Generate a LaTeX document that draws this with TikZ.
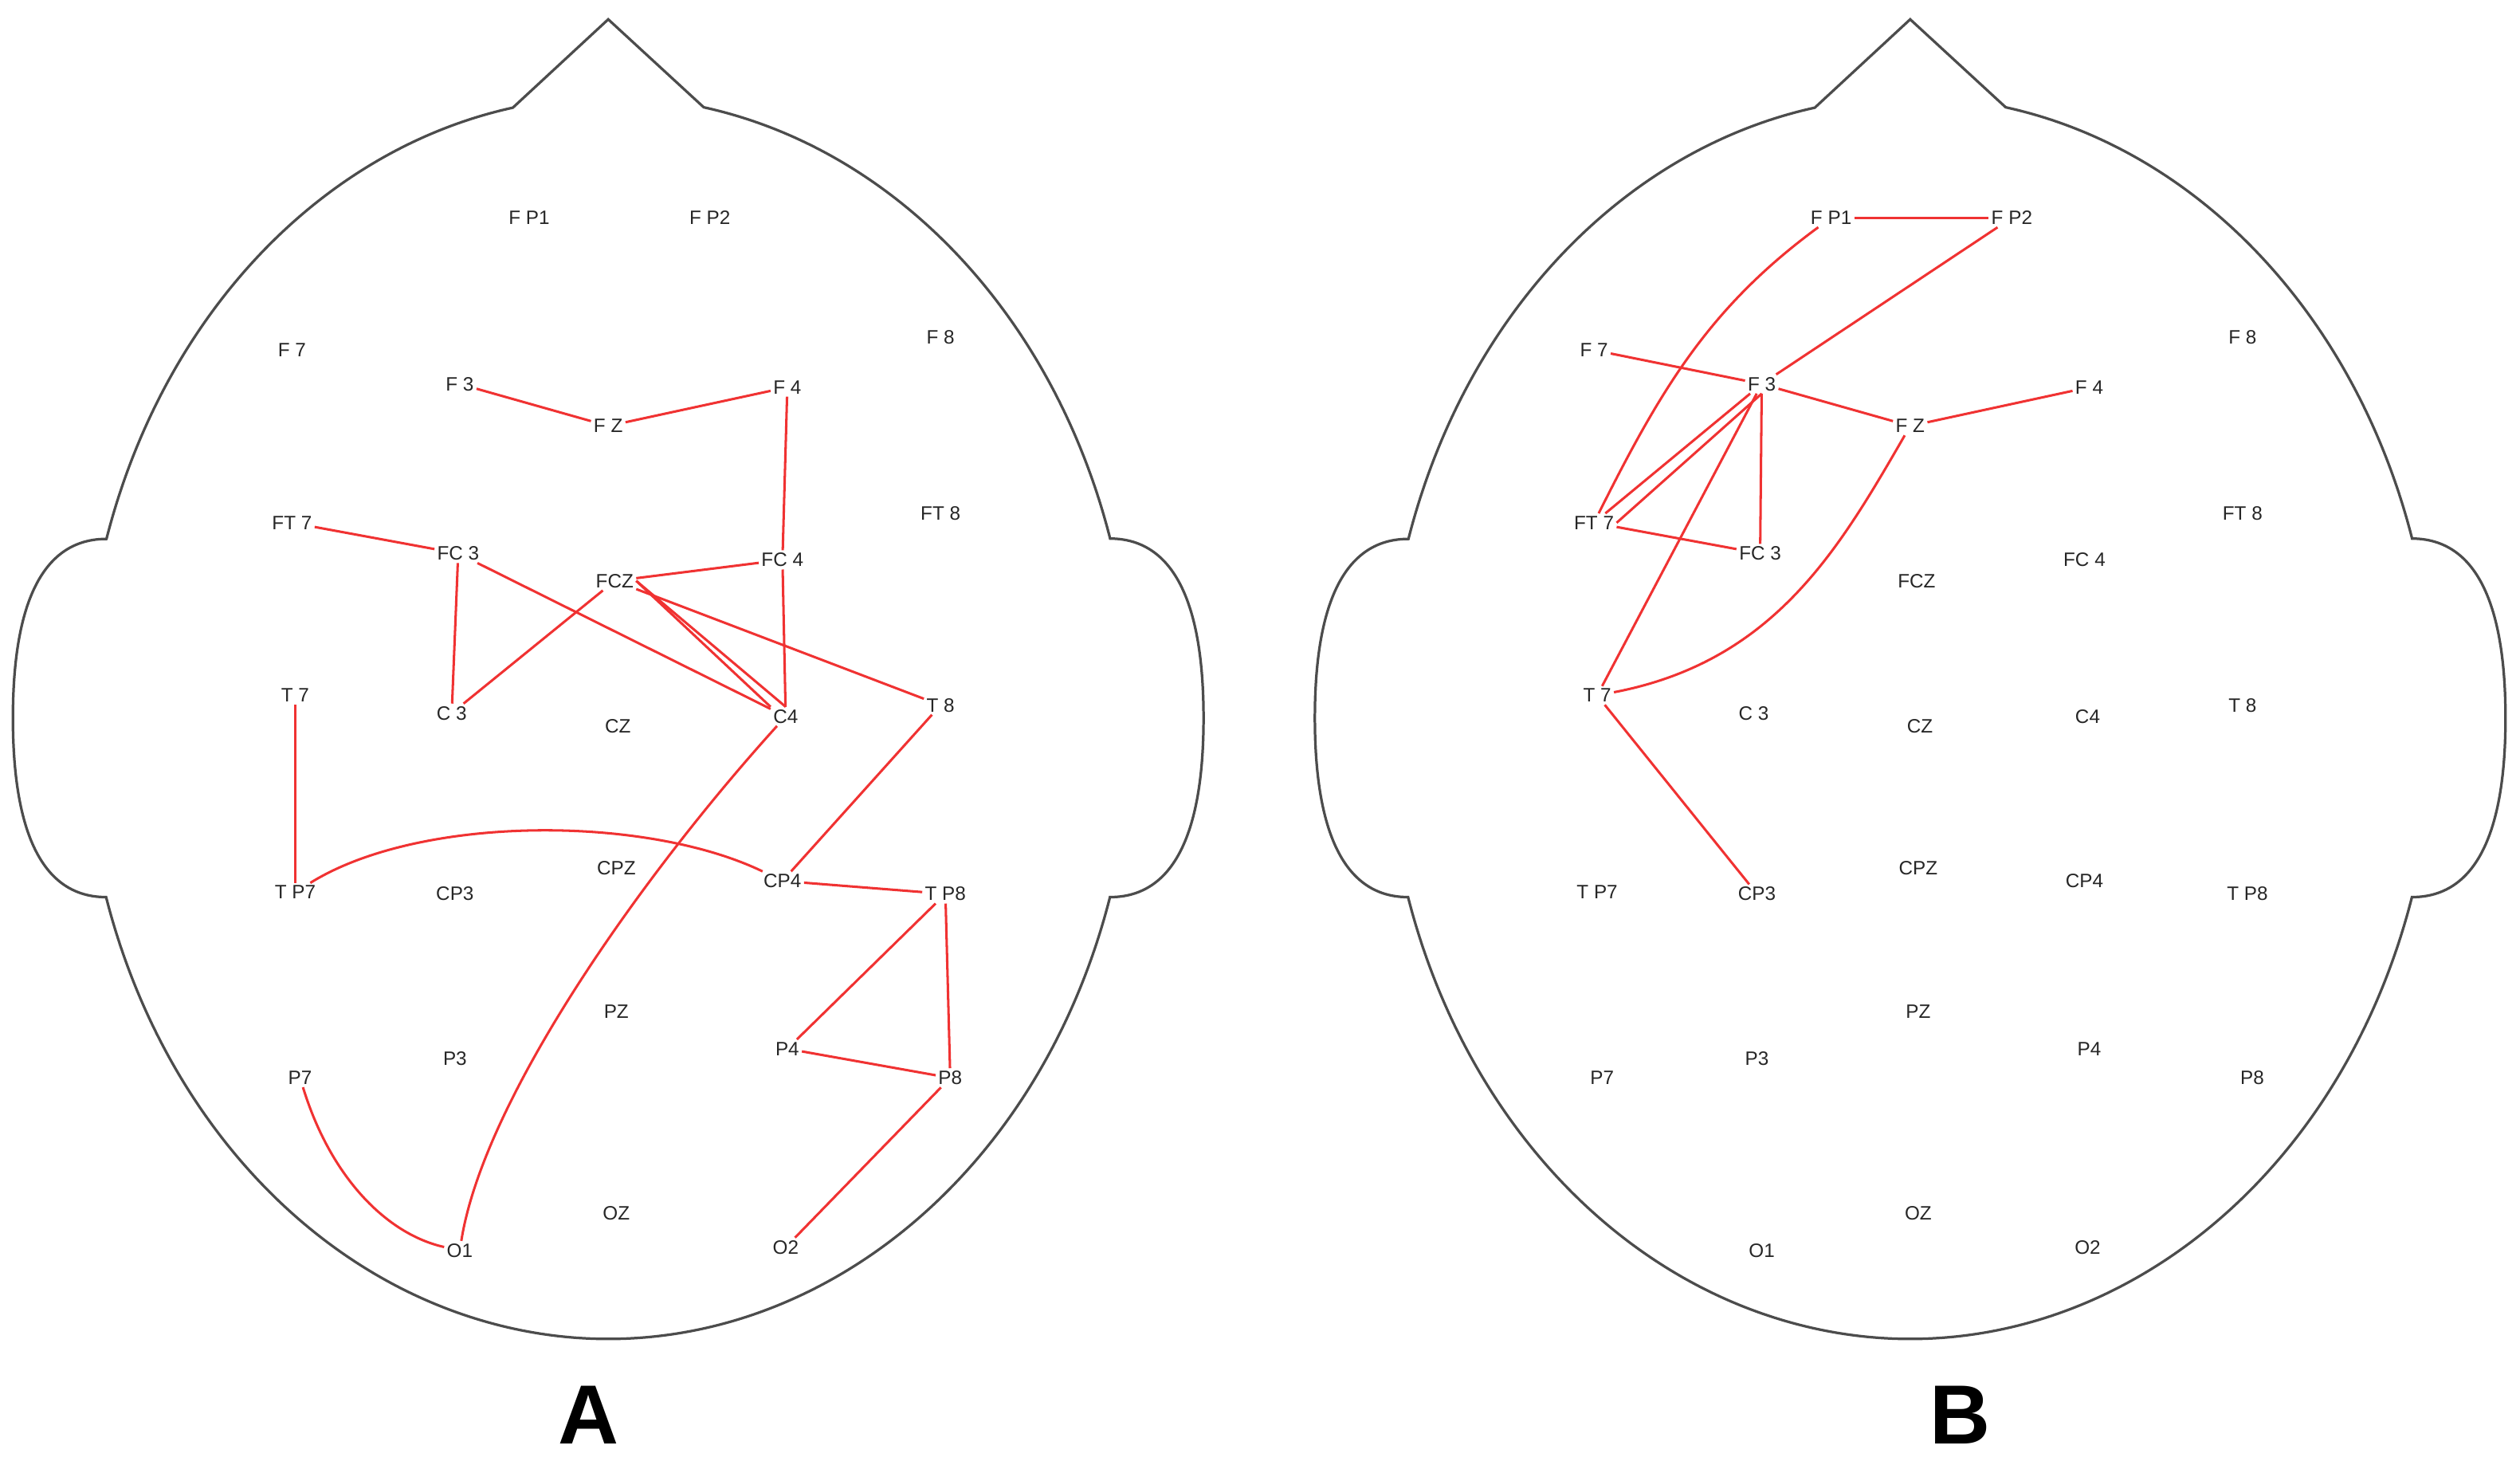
\documentclass[tikz,border=0pt]{standalone}
\usepackage{fontspec}
\setmainfont{Liberation Sans}
\begin{document}
\begin{tikzpicture}[x=1pt,y=-1pt,
  el/.style={font=\fontsize{12}{12}\selectfont, inner sep=1.5pt, text=black!85},
  lnk/.style={draw={rgb,255:red,240;green,50;blue,50}, line width=1.5pt},
  headline/.style={draw=black!70, line width=1.6pt},
  bigl/.style={font=\fontsize{52}{52}\selectfont\bfseries, inner sep=0pt, anchor=base}]
\useasboundingbox (0,0) rectangle (1562,907.5);
\newcommand\headshape{%
  \draw[headline] (436.2,66.5) arc[start angle=79.5,end angle=16.8,x radius=325pt,y radius=385pt]
   .. controls (735,334) and (746,390) .. (746,445) .. controls (746,500) and (735,556) .. (688,556)
   arc[start angle=-16.8,end angle=-163.2,x radius=325pt,y radius=385pt]
   .. controls (19,556) and (8,500) .. (8,445) .. controls (8,390) and (19,334) .. (66,334)
   arc[start angle=163.2,end angle=100.5,x radius=325pt,y radius=385pt]
   -- (377,12) -- cycle;}
\newcommand\placeall[1]{%
  \node[el] (#1FP1) at (328,135) {F P1};
  \node[el] (#1FP2) at (440,135) {F P2};
  \node[el] (#1F7) at (181,217) {F 7};
  \node[el] (#1F3) at (285,238) {F 3};
  \node[el] (#1FZ) at (377,264) {F Z};
  \node[el] (#1F4) at (488,240) {F 4};
  \node[el] (#1F8) at (583,209) {F 8};
  \node[el] (#1FT7) at (181,324) {FT 7};
  \node[el] (#1FC3) at (284,343) {FC 3};
  \node[el] (#1FCZ) at (381,360) {FCZ};
  \node[el] (#1FC4) at (485,347) {FC 4};
  \node[el] (#1FT8) at (583,318) {FT 8};
  \node[el] (#1T7) at (183,431) {T 7};
  \node[el] (#1C3) at (280,442) {C 3};
  \node[el] (#1CZ) at (383,450) {CZ};
  \node[el] (#1C4) at (487,444) {C4};
  \node[el] (#1T8) at (583,437) {T 8};
  \node[el] (#1TP7) at (183,553) {T P7};
  \node[el] (#1CP3) at (282,554) {CP3};
  \node[el] (#1CPZ) at (382,538) {CPZ};
  \node[el] (#1CP4) at (485,546) {CP4};
  \node[el] (#1TP8) at (586,554) {T P8};
  \node[el] (#1P7) at (186,668) {P7};
  \node[el] (#1P3) at (282,656) {P3};
  \node[el] (#1PZ) at (382,627) {PZ};
  \node[el] (#1P4) at (488,650) {P4};
  \node[el] (#1P8) at (589,668) {P8};
  \node[el] (#1O1) at (285,775) {O1};
  \node[el] (#1OZ) at (382,752) {OZ};
  \node[el] (#1O2) at (487,773) {O2};}
% Panel A
\begin{scope}
\headshape
\placeall{a}
\end{scope}
\draw[lnk] (aF3) -- (aFZ);
\draw[lnk] (aFZ) -- (aF4);
\draw[lnk] (aF4) -- (aFC4);
\draw[lnk] (aFC4) -- (aC4);
\draw[lnk] (aFCZ) -- (aFC4);
\draw[lnk] (aFCZ.east) -- (aC4.north);
\draw[lnk] (aFCZ.east) -- (aC4.north west);
\draw[lnk] (aFCZ) -- (aT8);
\draw[lnk] (aFT7) -- (aFC3);
\draw[lnk] (aFC3) -- (aC4);
\draw[lnk] (aFC3) -- (aC3);
\draw[lnk] (aC3) -- (aFCZ);
\draw[lnk] (aT7) -- (aTP7);
\draw[lnk] (aTP7) .. controls (260,505) and (400,505) .. (aCP4);
\draw[lnk] (aC4) .. controls (400,540) and (300,680) .. (aO1);
\draw[lnk] (aT8) -- (aCP4);
\draw[lnk] (aCP4) -- (aTP8);
\draw[lnk] (aTP8) -- (aP4);
\draw[lnk] (aTP8) -- (aP8);
\draw[lnk] (aP4) -- (aP8);
\draw[lnk] (aP8) -- (aO2);
\draw[lnk] (aP7) .. controls (205,730) and (240,765) .. (aO1);
% Panel B
\begin{scope}[xshift=807pt]
\headshape
\placeall{b}
\end{scope}
\draw[lnk] (bFP1) -- (bFP2);
\draw[lnk] (bFP1) .. controls (1060,190) and (1030,240) .. (bFT7);
\draw[lnk] (bFP2) -- (bF3);
\draw[lnk] (bF7) -- (bF3);
\draw[lnk] (bF3) -- (bFZ);
\draw[lnk] (bFZ) -- (bF4);
\draw[lnk] (bF3) -- (bFT7);
\draw[lnk] (bF3.south) -- (bFT7.east);
\draw[lnk] (bF3) -- (bFC3);
\draw[lnk] (bF3) -- (bT7);
\draw[lnk] (bFT7) -- (bFC3);
\draw[lnk] (bFZ) .. controls (1140,340) and (1100,410) .. (bT7);
\draw[lnk] (bT7) -- (bCP3);
\node[bigl] (labA) at (365,895) {A};
\node[bigl] (labB) at (1215,895) {B};
\end{tikzpicture}
\end{document}
